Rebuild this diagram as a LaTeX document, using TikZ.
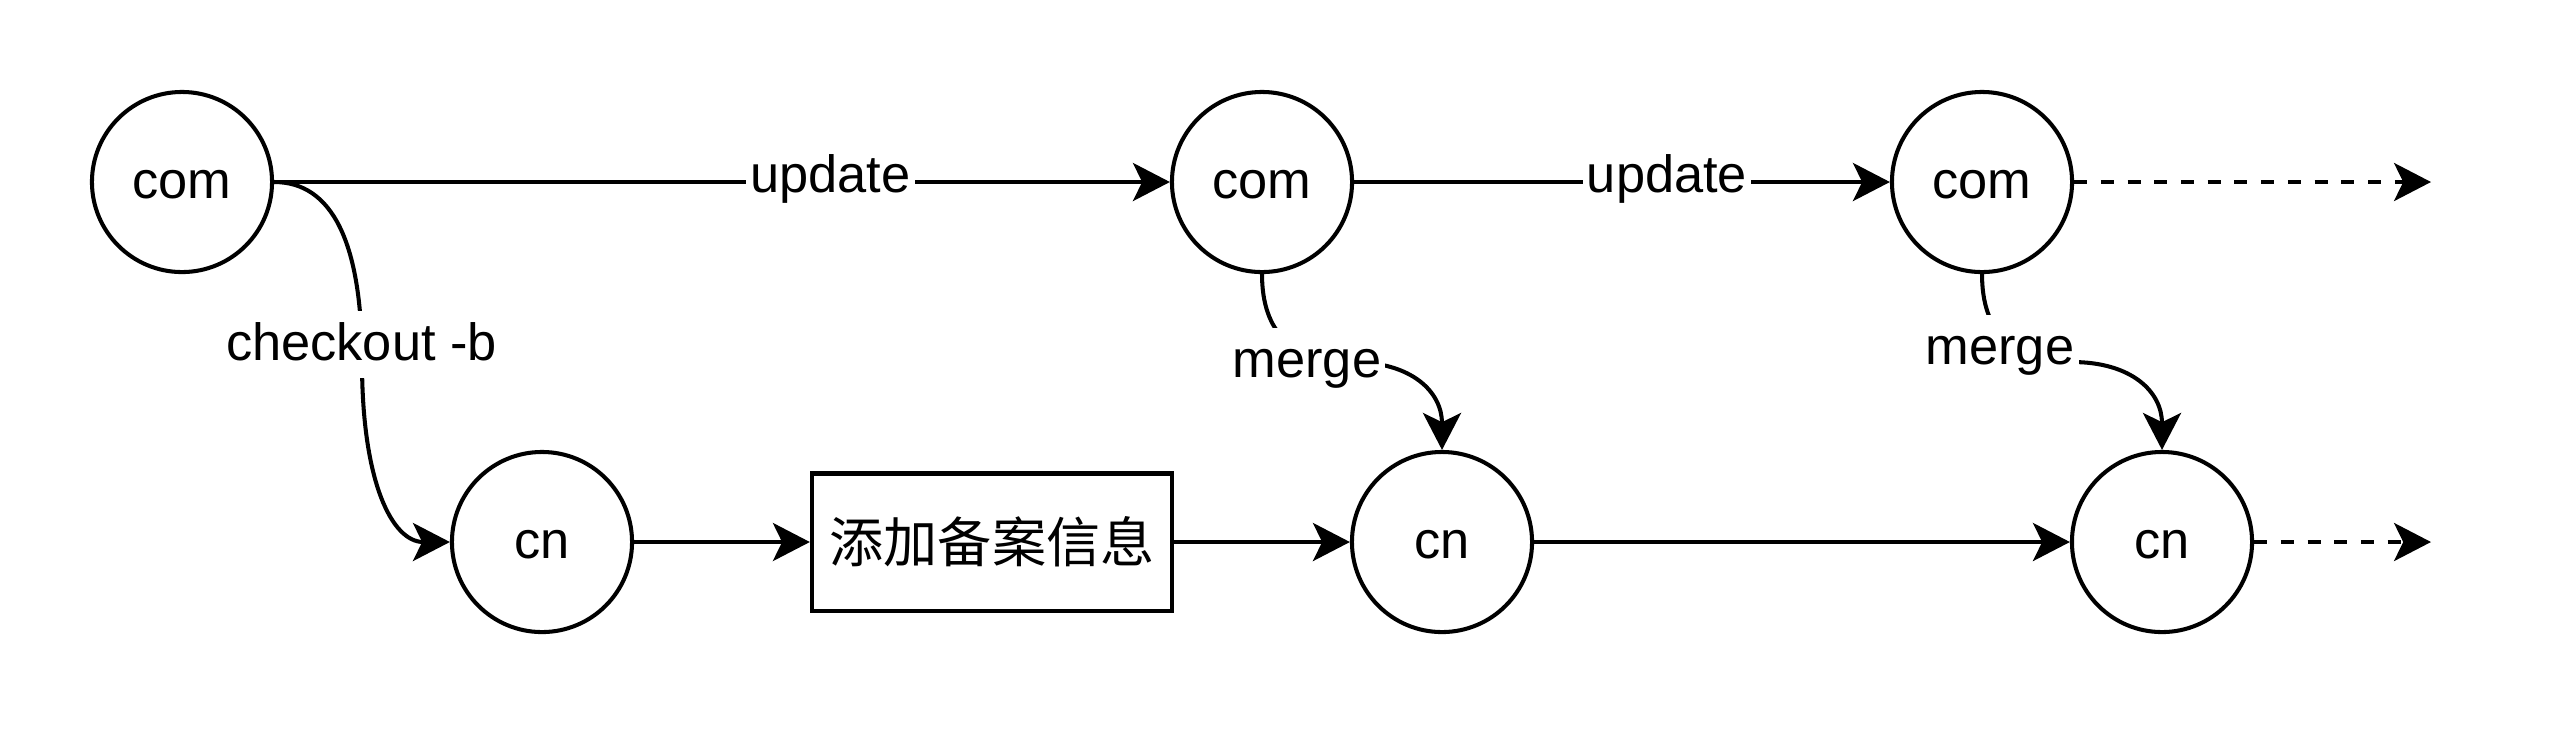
\documentclass[tikz,border=0pt]{standalone}
\usepackage{fontspec}
\setmainfont{Liberation Sans}
\newfontfamily\cjkfont{Noto Sans CJK SC}
\usetikzlibrary{arrows.meta}
\tikzset{
  commit/.style={draw, circle, line width=1.15pt, minimum size=1.8cm, inner sep=0pt,
    text height=9.5pt, text depth=0pt,
    font=\fontsize{14.9pt}{17.9pt}\selectfont},
  taskbox/.style={draw, rectangle, line width=1.15pt, minimum width=3.6cm, minimum height=1.37cm,
    inner sep=0pt, font=\cjkfont\fontsize{15.4pt}{18pt}\selectfont},
  conn/.style={line width=1.15pt, -{Stealth[length=10.5pt,width=10.8pt,inset=2.6pt]}},
  dashconn/.style={conn, dash pattern=on 3.7pt off 3.9pt},
  lbl/.style={fill=white, anchor=base, inner xsep=1.2pt, inner ysep=0pt,
    text height=13.9pt, text depth=5.1pt, font=\fontsize{14.9pt}{17.9pt}\selectfont},
}
\begin{document}
\begin{tikzpicture}[x=0.01cm, y=-0.01cm]
\fill[white] (0,0) rectangle (2560,729);
\useasboundingbox (0,0) rectangle (2560,729);

\node[commit] (com1) at (182,182) {com};
\node[commit] (com2) at (1262,182) {com};
\node[commit] (com3) at (1982,182) {com};
\node[commit] (cn1) at (542,542) {cn};
\node[taskbox] (info) at (992,542) {添加备案信息};
\node[commit] (cn2) at (1442,542) {cn};
\node[commit] (cn3) at (2162,542) {cn};
\coordinate (endA) at (2431,182);
\coordinate (endB) at (2431,542);

\draw[conn] (com1.east) -- (com2.west) node[lbl] at (830.5,192.5) {update};
\draw[conn] (com2.east) -- (com3.west) node[lbl] at (1667,192.7) {update};
\draw[dashconn] (com3.east) -- (endA);

\draw[conn] (com1.east) .. controls (332,182) and (362,242) .. (362,362)
  node[lbl] at (361.5,360) {checkout -b}
  .. controls (362,482) and (392,542) .. (cn1.west);

\draw[conn] (com2.south) .. controls (1262,332) and (1292,362) .. (1352,362)
  node[lbl] at (1307,377) {merge}
  .. controls (1412,362) and (1442,392) .. (cn2.north);

\draw[conn] (com3.south) .. controls (1982,332) and (2012,362) .. (2072,362)
  node[lbl] at (2000,364) {merge}
  .. controls (2132,362) and (2162,392) .. (cn3.north);

\draw[conn] (cn1.east) -- (info.west);
\draw[conn] (info.east) -- (cn2.west);
\draw[conn] (cn2.east) -- (cn3.west);
\draw[dashconn] (cn3.east) -- (endB);
\end{tikzpicture}
\end{document}
